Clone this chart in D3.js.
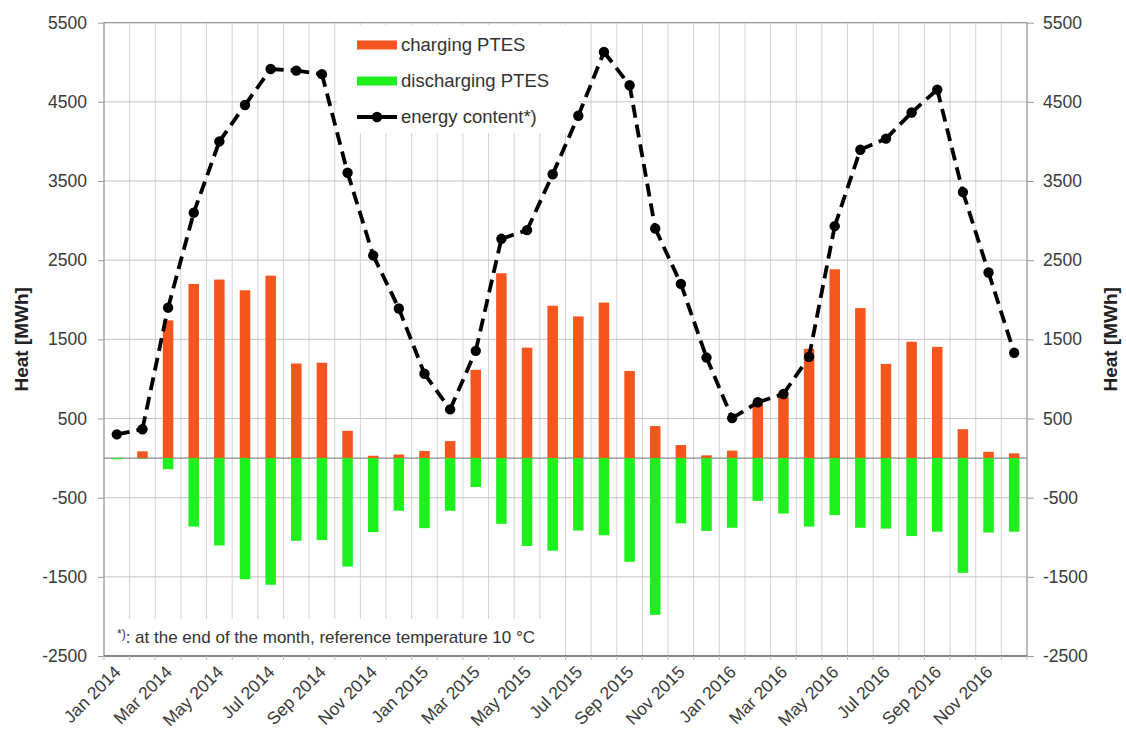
<!DOCTYPE html>
<html>
<head>
<meta charset="utf-8">
<script src="https://cdn.jsdelivr.net/npm/d3@7"></script>
<style>
  html, body { margin: 0; padding: 0; background: #fff; }
  svg { display: block; font-family: Arial, "Liberation Sans", sans-serif; }
</style>
</head>
<body>
<svg id="chart" width="1126" height="740"></svg>
<script>
// ---------- data ----------
const months = [
  "Jan 2014","Feb 2014","Mar 2014","Apr 2014","May 2014","Jun 2014","Jul 2014","Aug 2014","Sep 2014","Oct 2014","Nov 2014","Dec 2014",
  "Jan 2015","Feb 2015","Mar 2015","Apr 2015","May 2015","Jun 2015","Jul 2015","Aug 2015","Sep 2015","Oct 2015","Nov 2015","Dec 2015",
  "Jan 2016","Feb 2016","Mar 2016","Apr 2016","May 2016","Jun 2016","Jul 2016","Aug 2016","Sep 2016","Oct 2016","Nov 2016","Dec 2016"
];
const charging = [
  0, 85, 1740, 2200, 2255, 2120, 2305, 1195, 1205, 345, 30, 45,
  90, 215, 1115, 2335, 1395, 1925, 1790, 1965, 1100, 405, 165, 35,
  95, 690, 775, 1380, 2385, 1895, 1190, 1470, 1405, 365, 80, 60
];
const discharging = [
  -15, -5, -140, -865, -1105, -1530, -1600, -1045, -1035, -1370, -935, -665,
  -885, -665, -365, -830, -1110, -1170, -915, -975, -1310, -1980, -825, -920,
  -880, -540, -700, -865, -720, -880, -890, -985, -930, -1450, -940, -930
];
const energyContent = [
  300, 365, 1900, 3100, 4000, 4460, 4915, 4895, 4850, 3605, 2560, 1890,
  1065, 615, 1355, 2770, 2880, 3585, 4325, 5130, 4710, 2900, 2200, 1270,
  505, 705, 810, 1280, 2930, 3895, 4035, 4365, 4655, 3360, 2345, 1330
];
const yTicks = [-2500, -1500, -500, 500, 1500, 2500, 3500, 4500, 5500];
const legendLabels = ["charging PTES", "discharging PTES", "energy content*)"];
const yTitle = "Heat [MWh]";
const footnote = ": at the end of the month, reference temperature  10 °C";

// ---------- layout ----------
const W = 1126, H = 740;
const pLeft = 104, pRight = 1027, pTop = 22.7, pBottom = 656;
const colCharge = "#F4561D", colDischarge = "#1EF01E";

const svg = d3.select("#chart");
svg.append("rect").attr("width", W).attr("height", H).attr("fill", "#fff");

const x = d3.scaleBand().domain(months).range([pLeft, pRight]).paddingInner(0).paddingOuter(0);
const y = d3.scaleLinear().domain([-2500, 5500]).range([pBottom, pTop]);
const bw = x.bandwidth() * 0.41;
const cx = d => x(d) + x.bandwidth() / 2;

// vertical gridlines (month boundaries)
const vBounds = months.map(m => x(m)).concat([pRight]);
svg.append("g").selectAll("line").data(vBounds).join("line")
  .attr("x1", d => d).attr("x2", d => d).attr("y1", pTop).attr("y2", pBottom)
  .attr("stroke", "#d4d4d4").attr("stroke-width", 1);

// horizontal gridlines
svg.append("g").selectAll("line").data(yTicks).join("line")
  .attr("x1", pLeft).attr("x2", pRight).attr("y1", d => y(d)).attr("y2", d => y(d))
  .attr("stroke", "#c4c4c4").attr("stroke-width", 1);

// legend + footnote background boxes (cover gridlines)
svg.append("rect").attr("x", 337).attr("y", 25).attr("width", 241).attr("height", 108).attr("fill", "#fff");
svg.append("rect").attr("x", pLeft + 1).attr("y", 619).attr("width", 455).attr("height", pBottom - 619 - 1).attr("fill", "#fff");

// zero line
svg.append("line").attr("x1", pLeft).attr("x2", pRight).attr("y1", y(0)).attr("y2", y(0))
  .attr("stroke", "#8a8a8a").attr("stroke-width", 1.2);

// bars
svg.append("g").selectAll("rect").data(months).join("rect")
  .attr("x", d => cx(d) - bw / 2).attr("width", bw)
  .attr("y", (d, i) => y(charging[i])).attr("height", (d, i) => y(0) - y(charging[i]))
  .attr("fill", colCharge);
svg.append("g").selectAll("rect").data(months).join("rect")
  .attr("x", d => cx(d) - bw / 2).attr("width", bw)
  .attr("y", y(0)).attr("height", (d, i) => y(discharging[i]) - y(0))
  .attr("fill", colDischarge);

// frame
svg.append("rect").attr("x", pLeft).attr("y", pTop).attr("width", pRight - pLeft).attr("height", pBottom - pTop)
  .attr("fill", "none").attr("stroke", "#8c8c8c").attr("stroke-width", 1);
svg.append("line").attr("x1", pLeft).attr("x2", pRight).attr("y1", pBottom).attr("y2", pBottom)
  .attr("stroke", "#555").attr("stroke-width", 1.2);

// y axes
const fmt = d => String(d);
const yAxisL = d3.axisLeft(y).tickValues(yTicks).tickSize(6).tickPadding(10).tickFormat(fmt);
const yAxisR = d3.axisRight(y).tickValues(yTicks).tickSize(7).tickPadding(10).tickFormat(fmt);
const gL = svg.append("g").attr("transform", `translate(${pLeft},0)`).call(yAxisL);
const gR = svg.append("g").attr("transform", `translate(${pRight},0)`).call(yAxisR);
[gL, gR].forEach(g => {
  g.select(".domain").remove();
  g.selectAll(".tick line").attr("stroke", "#9a9a9a");
  g.selectAll(".tick text").attr("font-size", 17.5).attr("fill", "#3a3a3a")
    .attr("font-family", "Arial, 'Liberation Sans', sans-serif");
});
gL.selectAll(".tick text").attr("x", -17);
gR.selectAll(".tick text").attr("x", 16);

// x axis
const xAxis = d3.axisBottom(x).tickValues(months.filter((m, i) => i % 2 === 0)).tickSize(0).tickFormat(d => d);
const gX = svg.append("g").attr("transform", `translate(0,${pBottom})`).call(xAxis);
gX.select(".domain").remove();
gX.selectAll(".tick text")
  .attr("font-size", 17.5).attr("fill", "#3a3a3a")
  .attr("font-family", "Arial, 'Liberation Sans', sans-serif")
  .attr("text-anchor", "end").attr("dy", null).attr("y", null)
  .attr("transform", "translate(5,17) rotate(-45)");
// small x tick marks at month boundaries
svg.append("g").selectAll("line").data(vBounds).join("line")
  .attr("x1", d => d).attr("x2", d => d).attr("y1", pBottom).attr("y2", pBottom + 4)
  .attr("stroke", "#bbb");

// energy content line (dashed segments)
const pts = months.map((m, i) => [cx(m), y(energyContent[i])]);
const seg = d3.line();
const pairs = d3.pairs(pts);
svg.append("g").selectAll("path").data(pairs).join("path")
  .attr("d", d => seg(d)).attr("fill", "none").attr("stroke", "#000")
  .attr("stroke-width", 3.8).attr("stroke-dasharray", "13,7");
svg.append("g").selectAll("circle").data(pts).join("circle")
  .attr("cx", d => d[0]).attr("cy", d => d[1]).attr("r", 5.2).attr("fill", "#000");

// legend
const lg = svg.append("g");
const lx = 357, ly = [45, 81, 117];
lg.append("rect").attr("x", lx).attr("y", ly[0] - 4.5).attr("width", 40).attr("height", 9).attr("fill", colCharge);
lg.append("rect").attr("x", lx).attr("y", ly[1] - 4.5).attr("width", 40).attr("height", 9).attr("fill", colDischarge);
lg.append("line").attr("x1", lx).attr("x2", lx + 40).attr("y1", ly[2]).attr("y2", ly[2])
  .attr("stroke", "#000").attr("stroke-width", 3.8);
lg.append("circle").attr("cx", lx + 20).attr("cy", ly[2]).attr("r", 5.2).attr("fill", "#000");
lg.selectAll("text").data(legendLabels).join("text")
  .attr("x", lx + 44).attr("y", (d, i) => ly[i]).attr("dy", "0.35em")
  .attr("font-size", 18.5).attr("fill", "#333").text(d => d);

// footnote
const fn = svg.append("text").attr("x", 117).attr("y", 643).attr("font-size", 17).attr("fill", "#333");
fn.append("tspan").attr("font-size", 12).attr("dy", -5).text("*)");
fn.append("tspan").attr("dy", 5).text(footnote);

// axis titles
svg.append("text").attr("transform", `translate(28,${(pTop + pBottom) / 2}) rotate(-90)`)
  .attr("text-anchor", "middle").attr("font-size", 19).attr("font-weight", "bold").attr("fill", "#222")
  .text(yTitle);
svg.append("text").attr("transform", `translate(1117,${(pTop + pBottom) / 2}) rotate(-90)`)
  .attr("text-anchor", "middle").attr("font-size", 19).attr("font-weight", "bold").attr("fill", "#222")
  .text(yTitle);
</script>
</body>
</html>
